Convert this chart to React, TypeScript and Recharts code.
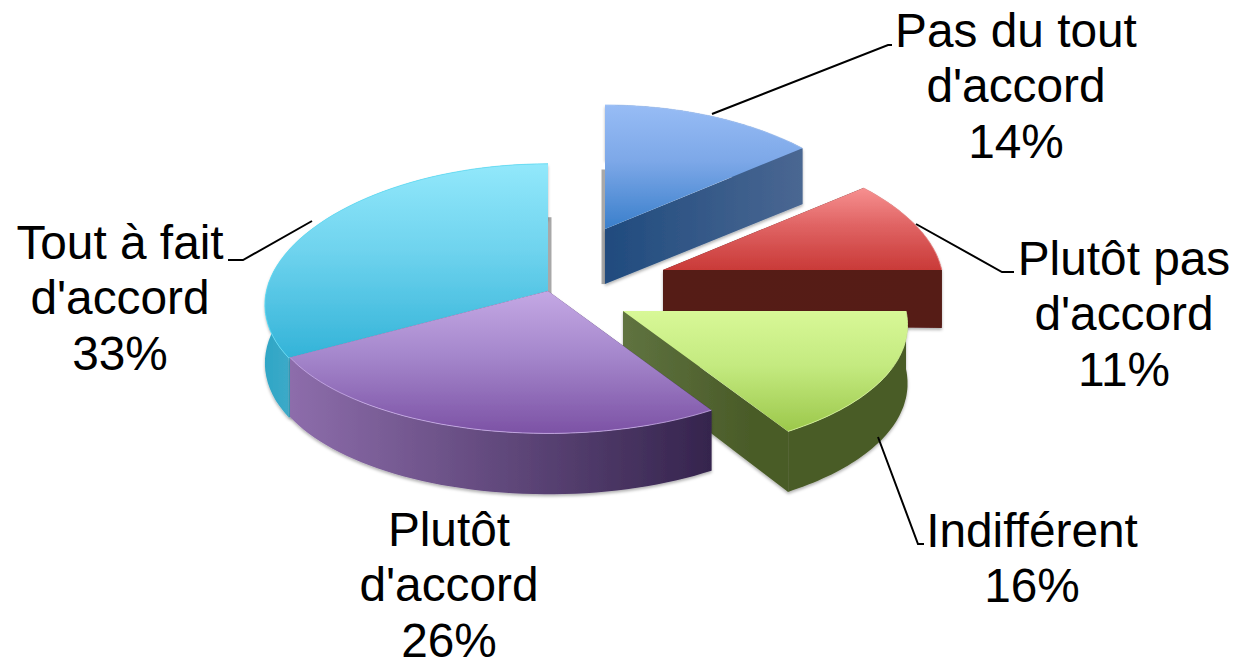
import React from "react";
import { PieChart, Pie } from "recharts";

// Listed from the back of the pie to the front, so later slices paint over earlier ones.
const categories = [
  "Tout à fait d'accord",
  "Pas du tout d'accord",
  "Plutôt pas d'accord",
  "Indifférent",
  "Plutôt d'accord",
];
const percents = [33, 14, 11, 16, 26];

const RADIUS = 283;
const TILT = 0.48; // vertical squash of the disc
const DEPTH = 58;

type SliceStyle = {
  dx: number;
  dy: number;
  scale: number;
  top: string[];
  wall: string[];
  wallRange: number[];
  rim: string;
  strip: number;
  stripLength: number;
};

const sliceStyles: Record<string, SliceStyle> = {
  "Tout à fait d'accord": {
    dx: 0, dy: 0, scale: 0.995,
    top: ["#92E8FB", "#6ED3EE", "#33B3D8"],
    wall: ["#2FA6C6", "#3EAAC8"],
    wallRange: [265, 292],
    rim: "#63DDF5",
    strip: 3.5, stripLength: 0.58,
  },
  "Pas du tout d'accord": {
    dx: 57, dy: -62, scale: 0.97,
    top: ["#97BCF5", "#7DA8E8", "#3A7FCB"],
    wall: ["#204B7E", "#4A6792"],
    wallRange: [605, 803],
    rim: "#A6C6F5",
    strip: -3.5, stripLength: 0.48,
  },
  "Plutôt pas d'accord": {
    dx: 115, dy: -21, scale: 0.985,
    top: ["#F79090", "#E06464", "#C93A38"],
    wall: ["#551A16", "#561B17"],
    wallRange: [663, 942],
    rim: "#F59A9A",
    strip: 0, stripLength: 0,
  },
  Indifférent: {
    dx: 75, dy: 20, scale: 1,
    top: ["#D8F897", "#C4EA80", "#9CC84B"],
    wall: ["#5F7340", "#4A5B28"],
    wallRange: [623, 750],
    rim: "#D6F29A",
    strip: 0, stripLength: 0,
  },
  "Plutôt d'accord": {
    dx: 0, dy: 0, scale: 0.99,
    top: ["#C4A8E4", "#A587CC", "#7C52A5"],
    wall: ["#8D6DAB", "#35244D"],
    wallRange: [290, 712],
    rim: "#C9AEE8",
    strip: 0, stripLength: 0,
  },
};

type LabelStyle = { x: number; y: number; lines: string[]; leader: string | null };

const labelStyles: Record<string, LabelStyle> = {
  "Tout à fait d'accord": {
    x: 120, y: 259, lines: ["Tout à fait", "d'accord"],
    leader: "312,221 243,260 228,260",
  },
  "Pas du tout d'accord": {
    x: 1016, y: 47, lines: ["Pas du tout", "d'accord"],
    leader: "712,114 888,45 892,45",
  },
  "Plutôt pas d'accord": {
    x: 1124, y: 275, lines: ["Plutôt pas", "d'accord"],
    leader: "916,224 1002,272 1014,272",
  },
  Indifférent: {
    x: 1032, y: 547, lines: ["Indifférent"],
    leader: "878,437 918,544 924,544",
  },
  "Plutôt d'accord": {
    x: 449, y: 546, lines: ["Plutôt", "d'accord"],
    leader: null,
  },
};

const data = categories.map((name, i) => ({ name, value: percents[i] }));

const gradientId = (kind: string, name: string) =>
  `${kind}-${categories.indexOf(name)}`;

// Perspective projection of a point on the disc. angle is clockwise from 12 o'clock.
function project(
  style: SliceStyle,
  cx: number,
  cy: number,
  r: number,
  angle: number,
  radius: number,
  z: number
) {
  const front = -Math.cos(angle);
  const x =
    cx + style.dx + style.scale * radius * r * Math.sin(angle) * (1 + 0.105 * front);
  const y =
    cy +
    style.dy +
    style.scale * radius * TILT * r * front * (1 + 0.059 * front) +
    z * DEPTH * (1 + 0.05 * front);
  return [x, y];
}

function Slice3D(props: any) {
  const { cx, cy, outerRadius, startAngle, endAngle, payload, name } = props;
  const key = payload?.name ?? name;
  const style = sliceStyles[key];
  if (!style) return null;

  const a0 = ((90 - startAngle) * Math.PI) / 180;
  const a1 = ((90 - endAngle) * Math.PI) / 180;
  const steps = 48;
  const pt = (r: number, a: number, z: number) =>
    project(style, cx, cy, r, a, outerRadius, z).map((v) => v.toFixed(1)).join(" ");

  const arcPts = (z: number) => {
    const out: string[] = [];
    for (let i = 0; i <= steps; i++) {
      out.push(pt(1, a0 + ((a1 - a0) * i) / steps, z));
    }
    return out;
  };
  const topArc = arcPts(0);
  const lowArc = arcPts(1);
  const apex = pt(0, 0, 0);
  const apexLow = pt(0, 0, 1);

  const topPath = `M${apex} L${topArc.join(" L")} Z`;
  const rimPath = `M${topArc.join(" L")}`;
  const arcWall = `M${topArc.join(" L")} L${[...lowArc].reverse().join(" L")} Z`;
  const faceA = `M${apex} L${topArc[0]} L${lowArc[0]} L${apexLow} Z`;
  const faceB = `M${apex} L${topArc[steps]} L${lowArc[steps]} L${apexLow} Z`;
  const wallFill = `url(#${gradientId("wall", key)})`;

  let strip = null;
  if (style.strip !== 0) {
    const s = project(style, cx, cy, style.stripLength, 0, outerRadius, 0);
    const b = project(style, cx, cy, 0, 0, outerRadius, 1);
    const d = style.strip;
    strip = (
      <path
        d={`M${s[0]} ${s[1]} L${s[0] + d} ${s[1]} L${b[0] + d} ${b[1]} L${b[0]} ${b[1]} Z`}
        fill="#a8a8a8"
      />
    );
  }

  return (
    <g filter="url(#soften)">
      {strip}
      <g filter="url(#wallShadow)">
        <path d={faceA} fill={wallFill} />
        <path d={faceB} fill={wallFill} />
        <path d={arcWall} fill={wallFill} />
      </g>
      <path d={topPath} fill={`url(#${gradientId("top", key)})`} />
      <path d={rimPath} fill="none" stroke={style.rim} strokeWidth={1} strokeOpacity={0.8} />
    </g>
  );
}

function SliceLabel(props: any) {
  const { name, value, index } = props;
  const key = name ?? categories[index];
  const label = labelStyles[key];
  if (!label) return null;
  const lines = [...label.lines, `${value}%`];
  return (
    <g>
      {label.leader && (
        <polyline points={label.leader} fill="none" stroke="#000" strokeWidth={2} />
      )}
      <text
        x={label.x}
        y={label.y}
        textAnchor="middle"
        fontFamily="'Liberation Sans', Arial, sans-serif"
        fontSize={47.8}
        fill="#000"
      >
        {lines.map((line, i) => (
          <tspan key={line} x={label.x} dy={i === 0 ? 0 : 55.4}>
            {line}
          </tspan>
        ))}
      </text>
    </g>
  );
}

export default function App() {
  return (
    <div style={{ position: "absolute", left: 0, top: 0, width: 1249, height: 659 }}>
      <PieChart width={1249} height={659} margin={{ top: 0, right: 0, bottom: 0, left: 0 }}>
        <defs>
          <filter id="soften" x="-5%" y="-5%" width="110%" height="110%">
            <feGaussianBlur stdDeviation="0.45" />
          </filter>
          <filter id="wallShadow" x="-5%" y="-5%" width="110%" height="115%">
            <feDropShadow dx="0" dy="2" stdDeviation="1.6" floodColor="#000" floodOpacity="0.3" />
          </filter>
          {categories.map((name) => (
            <linearGradient key={name} id={gradientId("top", name)} x1="0" y1="0" x2="0" y2="1">
              <stop offset="0%" stopColor={sliceStyles[name].top[0]} />
              <stop offset="45%" stopColor={sliceStyles[name].top[1]} />
              <stop offset="100%" stopColor={sliceStyles[name].top[2]} />
            </linearGradient>
          ))}
          {categories.map((name) => (
            <linearGradient
              key={name}
              id={gradientId("wall", name)}
              gradientUnits="userSpaceOnUse"
              x1={sliceStyles[name].wallRange[0]}
              y1={0}
              x2={sliceStyles[name].wallRange[1]}
              y2={0}
            >
              <stop offset="0%" stopColor={sliceStyles[name].wall[0]} />
              <stop offset="100%" stopColor={sliceStyles[name].wall[1]} />
            </linearGradient>
          ))}
        </defs>
        <Pie
          data={data}
          dataKey="value"
          nameKey="name"
          cx={548}
          cy={291}
          innerRadius={0}
          outerRadius={RADIUS}
          startAngle={208.8}
          endAngle={-151.2}
          stroke="none"
          shape={Slice3D}
          label={SliceLabel}
          labelLine={false}
          isAnimationActive={false}
        />
      </PieChart>
    </div>
  );
}
